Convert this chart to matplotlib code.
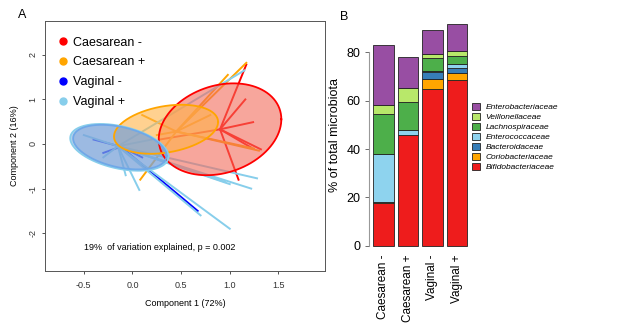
import numpy as np
import matplotlib.pyplot as plt
from matplotlib.lines import Line2D

plt.rcParams['font.family'] = ['Liberation Sans', 'DejaVu Sans']

# ---- panel A data (ordination) ----
groups = ['Caesarean -', 'Caesarean +', 'Vaginal -', 'Vaginal +']
group_colors = ['#FF0000', '#FFA500', '#0000FF', '#87CEEB']
fill_colors = ['#F26B5B', '#FFB347', '#6A8FD0', '#8AB4E0']

# centroids of each group
cent_x = [0.90, 0.45, -0.12, -0.15]
cent_y = [0.33, 0.28, -0.06, -0.05]

# sample points per group
pts_caes_neg = [(1.17, 1.78), (1.16, 1.00), (1.09, -0.80), (1.32, -0.12), (1.24, 0.49), (0.28, 0.10), (1.22, -0.08)]
pts_caes_pos = [(1.17, 1.82), (0.98, 1.55), (1.30, -0.15), (0.08, -0.80), (0.10, 0.65), (0.80, 0.65), (0.25, 0.20), (1.25, -0.10)]
pts_vag_neg = [(0.67, -1.50), (-0.40, 0.10), (0.10, -0.30), (-0.30, -0.20)]
pts_vag_pos = [(1.28, -0.77), (1.22, -1.00), (1.00, -1.90), (0.70, -1.60), (0.07, -1.03),
               (-0.07, -0.70), (1.00, -0.90), (1.15, 1.65), (-0.50, 0.20), (-0.30, -0.30), (0.20, 0.10), (0.95, -0.85)]
group_points = [pts_caes_neg, pts_caes_pos, pts_vag_neg, pts_vag_pos]

# ellipse parameters: x = cx + ax*cos t, y = cy + ay*sin(t + phase)
ell_cx = [0.90, 0.345, -0.13, -0.135]
ell_cy = [0.33, 0.33, -0.07, -0.075]
ell_ax = [0.63, 0.535, 0.48, 0.505]
ell_ay = [1.03, 0.55, 0.50, 0.525]
ell_phase = [0.22, 0.30, -0.40, -0.40]

# ---- panel B data (stacked bars) ----
bar_groups = ['Caesarean -', 'Caesarean +', 'Vaginal -', 'Vaginal +']
families = ['Bifidobacteriaceae', 'Coriobacteriaceae', 'Bacteroidaceae', 'Enterococcaceae',
            'Lachnospiraceae', 'Veillonellaceae', 'Enterobacteriaceae']
fam_colors = ['#EE1C1C', '#FFA500', '#377EB8', '#8ED3EE', '#4DAF4A', '#B8E86A', '#984EA3']
bifido = [17.8, 45.8, 64.7, 68.7]
corio = [0.3, 0.1, 4.4, 2.9]
bactero = [0.2, 0.1, 2.8, 2.1]
enteroc = [19.5, 1.7, 0.2, 1.3]
lachno = [16.5, 11.6, 5.4, 3.5]
veillo = [3.8, 6.1, 1.9, 2.2]
enterob = [24.8, 12.5, 9.7, 10.9]
fam_values = [bifido, corio, bactero, enteroc, lachno, veillo, enterob]

fig = plt.figure(figsize=(6.24, 3.27), dpi=100)

# ---------- A ----------
axA = fig.add_axes([0.072, 0.171, 0.449, 0.765])
for i in range(len(groups)):
    for px, py in group_points[i]:
        axA.plot([cent_x[i], px], [cent_y[i], py], color=group_colors[i], lw=1.4, zorder=2)

t = np.linspace(0, 2 * np.pi, 200)
for i in [0, 1, 3, 2]:
    ex = ell_cx[i] + ell_ax[i] * np.cos(t)
    ey = ell_cy[i] + ell_ay[i] * np.sin(t + ell_phase[i])
    a = 0.6 if i != 2 else 0.35
    axA.fill(ex, ey, color=fill_colors[i], alpha=a, lw=0, zorder=3)
    edge = group_colors[i] if i != 2 else '#6FA8E8'
    axA.plot(ex, ey, color=edge, lw=1.3, zorder=4)

axA.set_xlim(-0.9, 1.98)
axA.set_ylim(-2.85, 2.76)
axA.set_xticks([-0.5, 0.0, 0.5, 1.0, 1.5])
axA.set_xticklabels(['-0.5', '0.0', '0.5', '1.0', '1.5'])
axA.set_yticks([-2, -1, 0, 1, 2])
axA.set_yticklabels(['-2', '-1', '0', '1', '2'], rotation=90, va='center')
axA.tick_params(labelsize=6.5, length=2.5, width=0.6, colors='#333333', pad=5)
axA.tick_params(axis='y', pad=3)
for s in axA.spines.values():
    s.set_color('#555555')
    s.set_linewidth(0.7)
axA.set_xlabel('Component 1 (72%)', fontsize=6.5, labelpad=6)
axA.set_ylabel('Component 2 (16%)', fontsize=6.5, labelpad=7)
axA.text(0.28, -2.33, '19%  of variation explained, p = 0.002', fontsize=6.5, ha='center', va='center')

handles = [Line2D([], [], marker='o', ls='none', color=c, markersize=5) for c in group_colors]
axA.legend(handles, groups, loc='upper left', bbox_to_anchor=(0.005, 0.982), frameon=False,
           fontsize=9, handlelength=0.8, handletextpad=0.4, labelspacing=0.62)
fig.text(0.036, 0.955, 'A', fontsize=9, ha='center', va='center')

# ---------- B ----------
axB = fig.add_axes([0.592, 0.221, 0.1625, 0.732])
xpos = np.array([0.7, 1.9, 3.1, 4.3])
bottom = np.zeros(len(bar_groups))
for vals, col, name in zip(fam_values, fam_colors, families):
    axB.bar(xpos, vals, width=1.0, bottom=bottom, color=col, edgecolor='#222222', lw=0.6, label=name)
    bottom += np.array(vals)

axB.set_xlim(0.016, 4.984)
axB.set_ylim(-3.7, 95.3)
for s in ['top', 'right', 'bottom']:
    axB.spines[s].set_visible(False)
axB.spines['left'].set_bounds(0, 80)
axB.spines['left'].set_color('#999999')
axB.set_yticks([0, 20, 40, 60, 80])
axB.tick_params(axis='y', labelsize=9, length=3, width=0.6, color='#555555')
axB.set_xticks(xpos)
axB.set_xticklabels(bar_groups, rotation=90, fontsize=8.5)
axB.tick_params(axis='x', length=0, pad=0)
axB.set_ylabel('% of total microbiota', fontsize=9, labelpad=4)

h, l = axB.get_legend_handles_labels()
leg = fig.legend(h[::-1], l[::-1], loc='upper left', bbox_to_anchor=(0.745, 0.708), frameon=False,
                 fontsize=6, handlelength=0.9, handleheight=0.9, handletextpad=0.7, labelspacing=0.2)
for txt in leg.get_texts():
    txt.set_style('italic')
fig.text(0.551, 0.948, 'B', fontsize=9, ha='center', va='center')

fig.savefig('out.png', dpi=100)
